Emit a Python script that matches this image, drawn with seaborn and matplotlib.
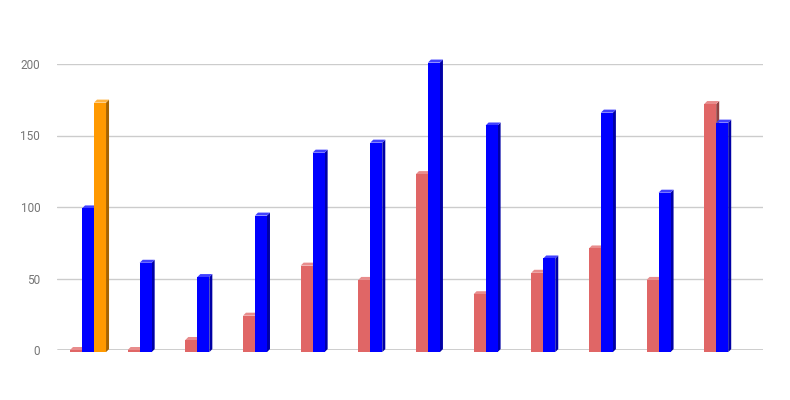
import numpy as np
import pandas as pd
import matplotlib
matplotlib.use("Agg")
import matplotlib.pyplot as plt
import matplotlib.colors as mcolors
from matplotlib.patches import Polygon
import seaborn as sns

# values (12 groups, no category labels shown)
groups = [str(i) for i in range(1, 13)]
red_vals = [0, 0, 7, 24, 59, 49, 123, 39, 54, 71, 49, 172]
blue_vals = [99, 61, 51, 94, 138, 145, 201, 157, 64, 166, 110, 159]
orange_vals = [173] + [np.nan] * 11
series_names = ["A", "B", "C"]
palette = ["#e06666", "#0000ff", "#ff9900"]
yticks = [0, 50, 100, 150, 200]

df = pd.DataFrame({
    "group": groups * 3,
    "series": np.repeat(series_names, len(groups)),
    "value": red_vals + blue_vals + orange_vals,
})

sns.set_style("white")
plt.rcParams["font.family"] = ["Roboto", "DejaVu Sans"]

fig = plt.figure(figsize=(7.9, 4.0), dpi=100)
ax = fig.add_axes([0.072, 0.125, 0.894, 0.715])

sns.barplot(data=df, x="group", y="value", hue="series", palette=palette,
            width=0.625, saturation=1, legend=False, linewidth=0,
            edgecolor="none", ax=ax, zorder=3)

ax.set_ylim(0, 200)
# plot area is a bit wider on the right than the bars need (3D depth room)
ax.set_xlim(-0.54, len(groups) - 0.29)
ax.set_yticks(yticks)
ax.set_xticks([])
ax.set_xlabel("")
ax.set_ylabel("")
ax.grid(axis="y", color="#cccccc", linewidth=1, zorder=0)
ax.axhline(0, color="#333333", linewidth=1, zorder=2)
for s in ax.spines.values():
    s.set_visible(False)
ax.tick_params(axis="y", length=0, labelsize=8.5, labelcolor="#757575", pad=12)

# fake 3D: side and top faces behind the front faces, depth ~3px
fig.canvas.draw()
bbox = ax.get_window_extent()
x_lo, x_hi = ax.get_xlim()
dx = 3 * (x_hi - x_lo) / bbox.width
dy = 3 * 200 / bbox.height
for p in list(ax.patches):
    h = p.get_height()
    if not np.isfinite(h):
        continue
    x0 = p.get_x()
    x1 = x0 + p.get_width()
    base = np.array(mcolors.to_rgb(p.get_facecolor()))
    side = base * 0.65
    top = base + (1 - base) * 0.25
    # front face sits a little below the back, like the 3D original
    p.set_y(-dy * 0.7)
    p.set_height(h + dy * 0.7)
    p.set_zorder(3)
    ax.add_patch(Polygon([(x1, -dy * 0.7), (x1 + dx, dy * 0.3),
                          (x1 + dx, h + dy), (x1, h)],
                         closed=True, facecolor=side, edgecolor="none",
                         zorder=2.5, clip_on=False))
    ax.add_patch(Polygon([(x0, h), (x1, h), (x1 + dx, h + dy), (x0 + dx, h + dy)],
                         closed=True, facecolor=top, edgecolor="none",
                         zorder=2.5, clip_on=False))
    p.set_clip_on(False)

fig.savefig("out.png", dpi=100)
